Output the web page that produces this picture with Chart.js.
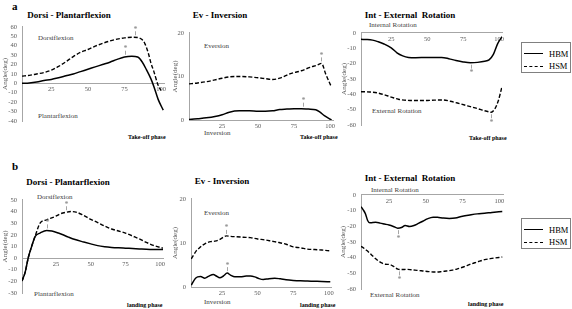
<!DOCTYPE html>
<html>
<head>
<meta charset="utf-8">
<script src="https://cdn.jsdelivr.net/npm/chart.js@4.4.1/dist/chart.umd.min.js"></script>
<style>
  body { margin: 0; background: #fff; }
  #fig { position: relative; width: 572px; height: 309px; overflow: hidden; font-family: 'Liberation Serif', 'Times New Roman', serif; }
  #fig canvas { position: absolute; }
  .t { position: absolute; white-space: nowrap; line-height: 1; }
  .title { font-weight: bold; font-size: 9px; color: #000; transform: translate(-50%, -50%); }
  .letter { font-weight: bold; font-size: 11px; color: #000; transform: translateY(-50%); }
  .note { font-size: 7px; color: #404040; transform: translateY(-50%); }
  .phase { font-weight: bold; font-size: 6px; color: #000; transform: translateY(-50%); }
  .legend { position: absolute; border: 1px solid #808080; box-sizing: border-box; width: 50px; background: #fff; }
  .legend .ln { position: absolute; left: 2px; width: 19px; height: 0; border-top: 1px solid #000; }
  .legend .lt { position: absolute; left: 27px; font-size: 8.5px; line-height: 1; transform: translateY(-50%); color: #000; }
</style>
</head>
<body>
<div id="fig">
  <div class="t letter" style="left:12px;top:6px">a</div>
  <div class="t letter" style="left:12px;top:166px">b</div>

  <div class="t title" style="left:69px;top:15px">Dorsi - Plantarflexion</div>
  <div class="t title" style="left:220px;top:15px">Ev - Inversion</div>
  <div class="t title" style="left:410px;top:15px">Int - External&nbsp; Rotation</div>
  <div class="t title" style="left:68px;top:182px">Dorsi - Plantarflexion</div>
  <div class="t title" style="left:222px;top:181px">Ev - Inversion</div>
  <div class="t title" style="left:410px;top:178px">Int - External&nbsp; Rotation</div>

  <div class="t note" style="left:38px;top:38px">Dorsiflexion</div>
  <div class="t note" style="left:38px;top:116px">Plantarflexion</div>
  <div class="t note" style="left:204px;top:46px">Eversion</div>
  <div class="t note" style="left:204px;top:133px">Inversion</div>
  <div class="t note" style="left:369px;top:25px">Internal Rotation</div>
  <div class="t note" style="left:372px;top:111px">External Rotation</div>

  <div class="t note" style="left:37px;top:197px">Dorsiflexion</div>
  <div class="t note" style="left:34px;top:294px">Plantarflexion</div>
  <div class="t note" style="left:204px;top:213px">Eversion</div>
  <div class="t note" style="left:204px;top:302px">Inversion</div>
  <div class="t note" style="left:371px;top:190px">Internal Rotation</div>
  <div class="t note" style="left:370px;top:295px">External Rotation</div>

  <div class="t phase" style="left:128px;top:137px">Take-off phase</div>
  <div class="t phase" style="left:300px;top:137px">Take-off phase</div>
  <div class="t phase" style="left:469px;top:138px">Take-off phase</div>
  <div class="t phase" style="left:127px;top:305px">landing phase</div>
  <div class="t phase" style="left:300px;top:305px">landing phase</div>
  <div class="t phase" style="left:468px;top:304px">landing phase</div>
</div>
<script>
const seriesNames = ['HBM', 'HSM']
const xTicks = [25, 50, 75, 100]

// a: take-off phase
const a1HbmX = [5, 10, 15, 20, 25, 30, 35, 40, 45, 50, 55, 60, 65, 70, 75, 80, 84, 87, 90, 93, 95, 98, 101.5]
const a1HbmY = [0, 0.5, 1.5, 3, 4.2, 6, 8, 10, 12.5, 15, 17.5, 20, 22.5, 25.5, 28, 28.8, 28, 23, 14.5, 5, -3, -17, -28.5]
const a1HsmX = [5, 10, 15, 20, 25, 30, 35, 40, 45, 50, 55, 60, 65, 70, 75, 80, 84, 87, 89, 91.5, 93, 95, 98, 100]
const a1HsmY = [7.7, 8.5, 10, 11.5, 14, 18, 23, 28.5, 33, 36, 39.5, 42.5, 45, 47, 48.3, 49, 48.7, 46.5, 42, 31, 22, 13, -2, -7.5]
const a1StarX = [75.5, 82]
const a1StarY = [28.3, 49]

const a2HbmX = [2, 8, 14, 20, 25, 30, 37, 44, 50, 55, 60, 65, 70, 75, 80, 85, 90, 93, 96, 101]
const a2HbmY = [0.1, 0.3, 0.5, 0.8, 1.2, 1.8, 2.1, 2.1, 2.0, 2.0, 2.1, 2.4, 2.5, 2.6, 2.6, 2.5, 2.35, 1.8, 1.0, 0]
const a2HsmX = [2, 8, 14, 20, 25, 30, 37, 44, 50, 55, 60, 65, 72, 80, 86, 91, 94, 97, 101]
const a2HsmY = [8.3, 8.5, 8.8, 9.2, 9.6, 9.9, 10, 9.9, 9.7, 9.5, 9.3, 9.6, 10.6, 11.3, 12.1, 12.6, 13, 10.5, 7.5]
const a2StarX = [81, 94]
const a2StarY = [2.6, 13]

const a3HbmX = [4, 8, 12, 16, 20, 25, 29, 33, 37, 42, 50, 55, 60, 65, 70, 75, 80, 85, 90, 93, 96, 99, 102]
const a3HbmY = [-4.2, -4.3, -4.7, -5.8, -7.2, -9.7, -13, -15, -16, -16.2, -16, -16, -16, -16.8, -18, -18.9, -19.4, -19.2, -18.5, -17.6, -14, -7, -2.5]
const a3HsmX = [4, 10, 15, 20, 25, 30, 38, 45, 50, 55, 61, 66, 71, 76, 80, 85, 89, 92, 94.5, 97, 99.5, 102]
const a3HsmY = [-38.3, -38.5, -39, -40.3, -41.8, -43.2, -44, -44, -44, -43.8, -43.7, -44.5, -45.7, -47, -48, -49.3, -50.5, -51.2, -51.7, -49.5, -44, -35]
const a3StarX = [80.5, 94.5]
const a3StarY = [-19.4, -51.7]

// b: landing phase
const b1HbmX = [0.5, 2.7, 5, 7.5, 10, 13.5, 18.3, 22, 26.7, 30, 34, 38.7, 45, 50, 55, 60, 65, 70, 75, 80, 85, 90, 95, 102]
const b1HbmY = [-19.6, -12.5, 0.3, 10.2, 18.7, 21.5, 23.8, 23.2, 21.5, 20, 18, 15.9, 13.8, 12.2, 10.7, 9.8, 9.2, 8.8, 8.5, 8.2, 7.9, 7.6, 7.4, 7.3]
const b1HsmX = [0.5, 2.7, 5, 7.5, 10, 13.5, 18.3, 24.3, 28, 31.5, 36, 40, 45, 50, 55, 60, 65, 70, 75, 80, 85, 90, 95, 102]
const b1HsmY = [-19.6, -12.5, 0.3, 10.2, 19, 30, 32.9, 35.7, 38, 39.2, 40, 39.3, 36.5, 33.3, 30.5, 27.5, 25, 23.3, 21.5, 19, 16.5, 13.5, 11, 8.5]
const b1StarX = [18.3, 32]
const b1StarY = [23.8, 39.4]

const b2HbmX = [3.5, 5, 6.5, 8, 10, 13, 15.5, 19, 21, 23.5, 26, 28.7, 31, 34, 38, 42, 45, 48, 51, 54, 58, 62, 66, 70, 75, 80, 85, 90, 95, 101]
const b2HbmY = [0.4, 1.3, 2.0, 2.3, 2.4, 2.0, 2.4, 2.85, 2.5, 2.1, 2.5, 3.15, 2.7, 2.3, 2.3, 2.5, 2.5, 2.3, 1.9, 1.7, 1.9, 2.0, 1.85, 1.65, 1.5, 1.4, 1.35, 1.3, 1.25, 1.2]
const b2HsmX = [3.5, 5, 7, 9, 11, 13, 15, 17, 20, 23, 26, 28, 31, 35, 40, 45, 50, 55, 60, 65, 70, 75, 80, 85, 90, 95, 101]
const b2HsmY = [6.4, 7.2, 8.2, 8.8, 9.4, 9.8, 10.1, 10.3, 10.4, 10.7, 11.3, 11.6, 11.5, 11.4, 11.3, 11.2, 10.9, 10.7, 10.4, 10.1, 9.7, 9.1, 8.9, 8.6, 8.5, 8.4, 8.2]
const b2StarX = [28.7, 28]
const b2StarY = [3.15, 11.6]

const b3HbmX = [6, 7.5, 9, 10.5, 12, 14, 16, 19, 22, 25, 28, 31, 33.5, 36, 39, 42, 45, 48, 51, 55, 58, 62, 66, 70, 75, 80, 85, 90, 95, 102]
const b3HbmY = [-7.5, -9.5, -12, -16.3, -17.8, -17.6, -17.5, -18, -18.6, -19.2, -20.1, -21.2, -20.8, -19.5, -20.1, -19.5, -18.2, -16.8, -15.3, -14.2, -14.3, -14.8, -15, -14.8, -13.6, -12.8, -12.1, -11.7, -11.2, -10.6]
const b3HsmX = [6, 8, 10, 12, 14, 16, 18, 20, 22.5, 25.5, 28, 31, 34, 37, 40, 44, 48, 52, 56, 60, 64, 68, 72, 76, 80, 85, 90, 95, 102]
const b3HsmY = [-32.8, -34, -35.5, -37.2, -39, -40.7, -42.2, -43.4, -44.2, -44.4, -45.5, -47.3, -47.6, -47.5, -47.7, -48.1, -48.5, -48.9, -49.2, -49, -48.5, -48, -47, -45.8, -44.3, -42.8, -41.3, -40.5, -39.6]
const b3StarX = [31, 32]
const b3StarY = [-21.2, -47.5]

// box = chart area [left, top, right, bottom] in page pixels, axw = room left of the axis
const panels = [
    { box: [22, 26, 164, 121], axw: 21, xMin: 5, xMax: 102, yMin: -40, yMax: 60, hbm: [a1HbmX, a1HbmY], hsm: [a1HsmX, a1HsmY], stars: [a1StarX, a1StarY], dir: -1 },
    { box: [189, 32, 333, 120], axw: 18, xMin: 2, xMax: 102, yMin: 0, yMax: 20, hbm: [a2HbmX, a2HbmY], hsm: [a2HsmX, a2HsmY], stars: [a2StarX, a2StarY], dir: -1 },
    { box: [361, 32, 502, 125], axw: 21, xMin: 4, xMax: 102, yMin: -60, yMax: 0, hbm: [a3HbmX, a3HbmY], hsm: [a3HsmX, a3HsmY], stars: [a3StarX, a3StarY], dir: 1 },
    { box: [22, 199, 163, 293], axw: 21, xMin: 0.5, xMax: 102, yMin: -30, yMax: 50, hbm: [b1HbmX, b1HbmY], hsm: [b1HsmX, b1HsmY], stars: [b1StarX, b1StarY], dir: -1 },
    { box: [191, 198, 331, 287], axw: 20, xMin: 3.3, xMax: 101.5, yMin: 0, yMax: 20, hbm: [b2HbmX, b2HbmY], hsm: [b2HsmX, b2HsmY], stars: [b2StarX, b2StarY], dir: -1 },
    { box: [361, 194, 503, 289], axw: 22, xMin: 6, xMax: 102.5, yMin: -60, yMax: 0, hbm: [b3HbmX, b3HbmY], hsm: [b3HsmX, b3HsmY], stars: [b3StarX, b3StarY], dir: 1 }
]

function pontos(xs, ys) {
    return xs.map((x, i) => ({ x: x, y: ys[i] }))
}

const fig = document.getElementById('fig')
const fonteTick = { family: "'Liberation Serif', serif", size: 6.5 }

panels.forEach(p => {
    const [l, t, r, b] = p.box
    const padT = 8, padR = 12, padB = 14
    const w = r - l + p.axw + padR
    const h = b - t + padT + padB
    const canvas = document.createElement('canvas')
    canvas.width = w
    canvas.height = h
    canvas.style.left = (l - p.axw) + 'px'
    canvas.style.top = (t - padT) + 'px'
    canvas.style.width = w + 'px'
    canvas.style.height = h + 'px'
    fig.appendChild(canvas)

    // asterisks with a short gray stem, placed on the curve through the scales
    const asteriscos = {
        id: 'asteriscos',
        afterDatasetsDraw(chart) {
            const ctx = chart.ctx
            const sx = chart.scales.x, sy = chart.scales.y
            ctx.save()
            ctx.strokeStyle = '#a6a6a6'
            ctx.fillStyle = '#7f7f7f'
            ctx.lineWidth = 1
            ctx.font = "8px 'Liberation Serif'"
            ctx.textAlign = 'center'
            ctx.textBaseline = 'middle'
            p.stars[0].forEach((x, i) => {
                const px = Math.round(sx.getPixelForValue(x)) + 0.5
                const py = sy.getPixelForValue(p.stars[1][i])
                ctx.beginPath()
                ctx.moveTo(px, py + p.dir * 2)
                ctx.lineTo(px, py + p.dir * 6)
                ctx.stroke()
                ctx.fillText('*', px, py + p.dir * 9 + 1.5)
            })
            ctx.restore()
        }
    }

    new Chart(canvas, {
        type: 'line',
        data: {
            datasets: [{
                label: seriesNames[0],
                data: pontos(p.hbm[0], p.hbm[1]),
                borderColor: '#000',
                borderWidth: 1.5,
                pointRadius: 0,
                cubicInterpolationMode: 'monotone'
            }, {
                label: seriesNames[1],
                data: pontos(p.hsm[0], p.hsm[1]),
                borderColor: '#000',
                borderWidth: 1.4,
                borderDash: [4, 2],
                pointRadius: 0,
                cubicInterpolationMode: 'monotone'
            }]
        },
        options: {
            responsive: false,
            animation: false,
            devicePixelRatio: 1,
            layout: { padding: { left: 0, top: padT, right: padR, bottom: padB } },
            plugins: {
                legend: { display: false },
                tooltip: { enabled: false }
            },
            scales: {
                x: {
                    type: 'linear',
                    position: { y: 0 },
                    min: p.xMin,
                    max: p.xMax,
                    afterBuildTicks: s => { s.ticks = xTicks.map(v => ({ value: v })) },
                    ticks: { font: fonteTick, color: '#595959', padding: 2, maxRotation: 0, autoSkip: false },
                    grid: { display: false, drawTicks: false },
                    border: { color: '#a6a6a6', width: 1 }
                },
                y: {
                    type: 'linear',
                    position: 'left',
                    min: p.yMin,
                    max: p.yMax,
                    afterFit: s => { s.width = p.axw },
                    ticks: { stepSize: 10, font: fonteTick, color: '#595959', padding: 5, autoSkip: false },
                    grid: { display: false, drawTicks: false },
                    border: { color: '#a6a6a6', width: 1 },
                    title: { display: true, text: 'Angle(deg)', color: '#595959', font: { family: "'Liberation Serif', serif", size: 7 }, padding: 0 }
                }
            }
        },
        plugins: [asteriscos]
    })
})

// legend boxes, one per row of panels
const legendTops = [42, 218]
legendTops.forEach(top => {
    const box = document.createElement('div')
    box.className = 'legend'
    box.style.left = '521px'
    box.style.top = top + 'px'
    box.style.height = '31px'
    seriesNames.forEach((nome, i) => {
        const y = 10 + i * 12.5
        const ln = document.createElement('div')
        ln.className = 'ln'
        ln.style.top = y + 'px'
        if (i == 1) ln.style.borderTopStyle = 'dashed'
        const lt = document.createElement('div')
        lt.className = 'lt'
        lt.style.top = (y + 0.5) + 'px'
        lt.textContent = nome
        box.appendChild(ln)
        box.appendChild(lt)
    })
    fig.appendChild(box)
})
</script>
</body>
</html>
